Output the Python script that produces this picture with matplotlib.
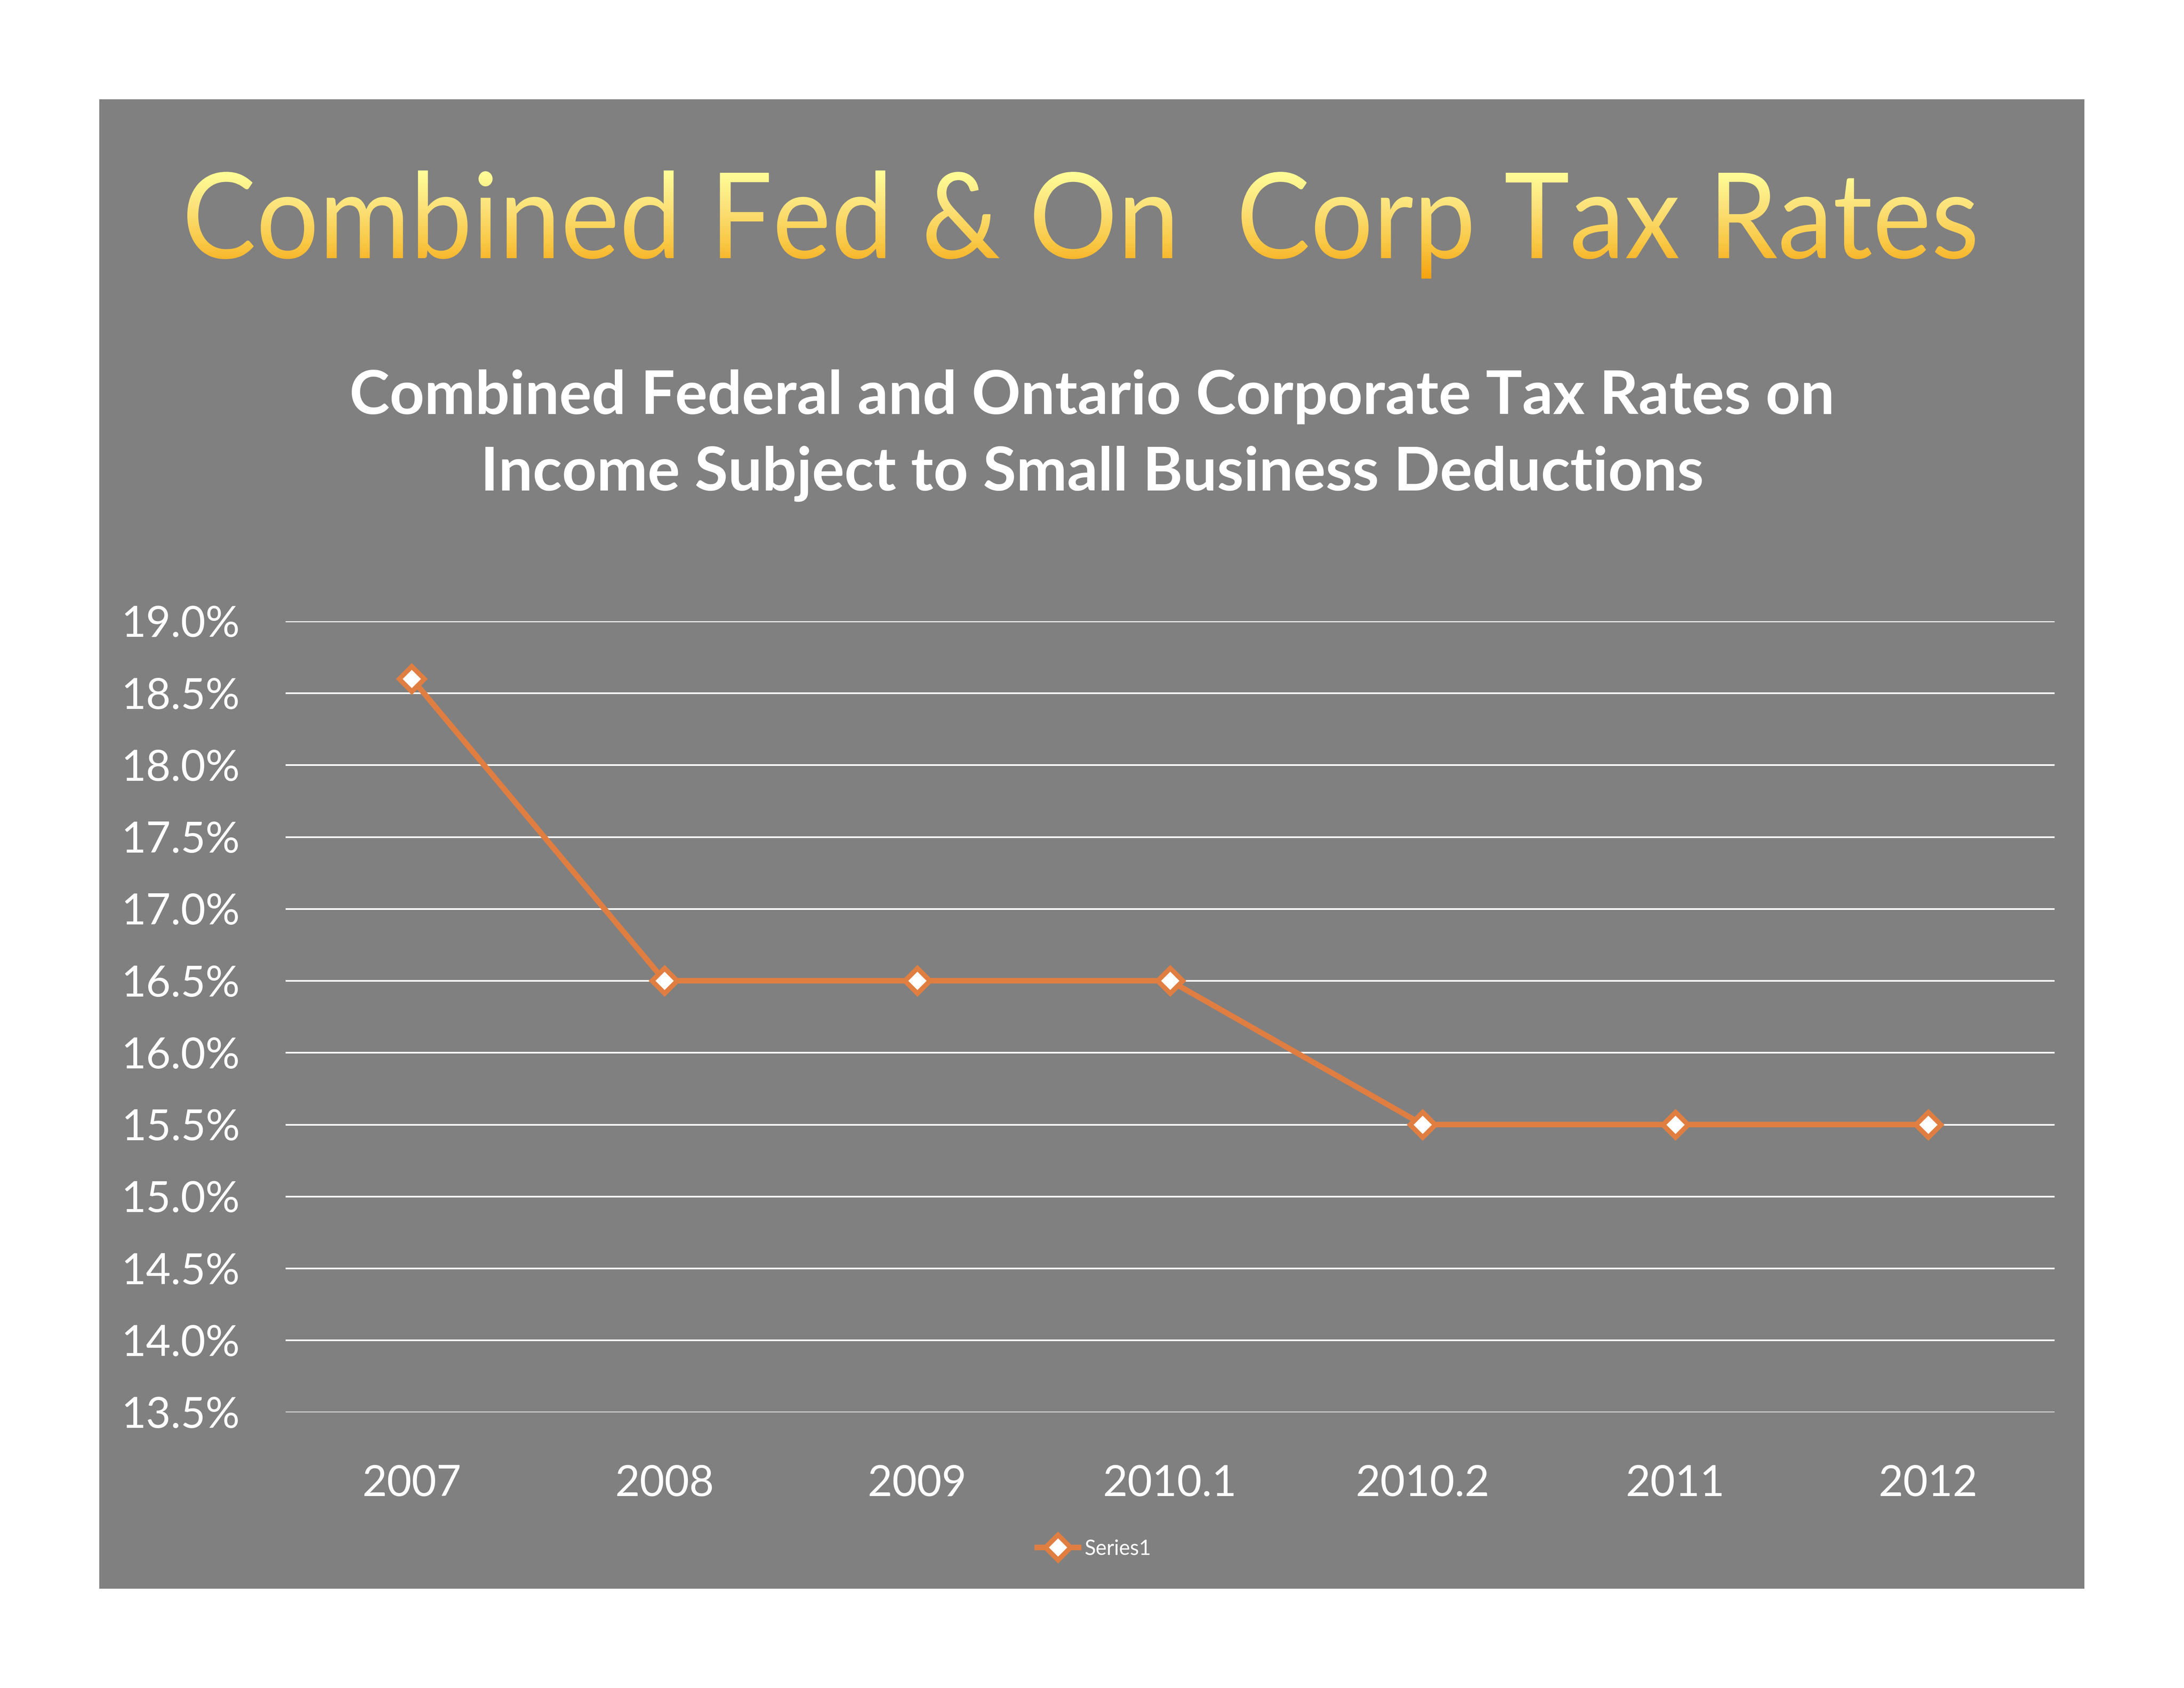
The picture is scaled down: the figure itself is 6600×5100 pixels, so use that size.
import numpy as np
import matplotlib
matplotlib.use("Agg")
import matplotlib.pyplot as plt
from matplotlib.textpath import TextPath
from matplotlib.patches import PathPatch, Rectangle
from matplotlib.font_manager import FontProperties
from matplotlib.transforms import Affine2D
from matplotlib.colors import LinearSegmentedColormap

# Datos
years = ["2007", "2008", "2009", "2010.1", "2010.2", "2011", "2012"]
rates = [18.6, 16.5, 16.5, 16.5, 15.5, 15.5, 15.5]
y_ticks = [13.5, 14.0, 14.5, 15.0, 15.5, 16.0, 16.5, 17.0, 17.5, 18.0, 18.5, 19.0]

title = "Combined Fed & On  Corp Tax Rates"
subtitle = "Combined Federal and Ontario Corporate Tax Rates on\nIncome Subject to Small Business Deductions"

FONT = "Lato"
GREY = "#808080"
ORANGE = "#E07E41"

W, H = 6600, 5100
fig = plt.figure(figsize=(22, 17), dpi=300, facecolor="white")

# capa de fondo en pixeles
bg = fig.add_axes([0, 0, 1, 1])
bg.set_xlim(0, W)
bg.set_ylim(0, H)
bg.axis("off")
bg.add_patch(Rectangle((300, 300), 6300 - 300 - 1, 4800 - 300, facecolor=GREY,
                       edgecolor="none", zorder=0))

# titulo con degradado (ancho y altura de mayusculas ajustados)
fp = FontProperties(family=FONT)
tp = TextPath((0, 0), title, size=100, prop=fp)
ext = tp.get_extents()
cap = TextPath((0, 0), "H", size=100, prop=fp).get_extents().height
sx = 5402 / ext.width
sy = 258 / cap
tr = Affine2D().translate(-ext.x0, 0).scale(sx, sy).translate(566, 4320)
path = tr.transform_path(tp)
pe = path.get_extents()
patch = PathPatch(path, facecolor="none", edgecolor="none", transform=bg.transData)
bg.add_patch(patch)
cmap = LinearSegmentedColormap.from_list("oro", ["#FFFF99", "#FCE27A", "#F9C845", "#F5A20F"])
grad = np.linspace(0, 1, 256).reshape(-1, 1)
im = bg.imshow(grad, cmap=cmap, aspect="auto", origin="upper",
               extent=[pe.x0, pe.x1, pe.y0, pe.y1], interpolation="bilinear", zorder=3)
im.set_clip_path(patch)
bg.set_xlim(0, W)
bg.set_ylim(0, H)

fig.text(0.5, 0.742, subtitle, ha="center", va="center", color="white",
         fontsize=44, fontweight="bold", family=FONT, linespacing=1.48)

# grafico
ax = fig.add_axes([0.1307, 0.1634, 0.81, 0.4686])
ax.set_facecolor("none")
x = np.arange(len(years))
ax.plot(x, rates, color=ORANGE, lw=4.0, marker="D", markersize=13,
        markerfacecolor="white", markeredgecolor=ORANGE, markeredgewidth=3.5,
        label="Series1", zorder=3)
ax.set_xlim(-0.5, len(years) - 0.5)
ax.set_ylim(13.5, 19.0)
ax.set_yticks(y_ticks)
ax.set_yticklabels([f"{v:.1f}%" for v in y_ticks])
ax.set_xticks(x)
ax.set_xticklabels(years)
ax.grid(axis="y", color="white", lw=1.2)
ax.set_axisbelow(True)
for s in ax.spines.values():
    s.set_visible(False)
ax.tick_params(length=0, colors="white", labelsize=31, pad=33)
for lab in ax.get_xticklabels() + ax.get_yticklabels():
    lab.set_family(FONT)
ax.tick_params(axis="x", pad=38)

leg = fig.legend(loc="center", bbox_to_anchor=(0.501, 0.0825), frameon=False,
                 prop=FontProperties(family=FONT, size=15), handlelength=2.0,
                 labelcolor="white", handletextpad=0.3)

fig.savefig("out.png", dpi=300, facecolor="white")
